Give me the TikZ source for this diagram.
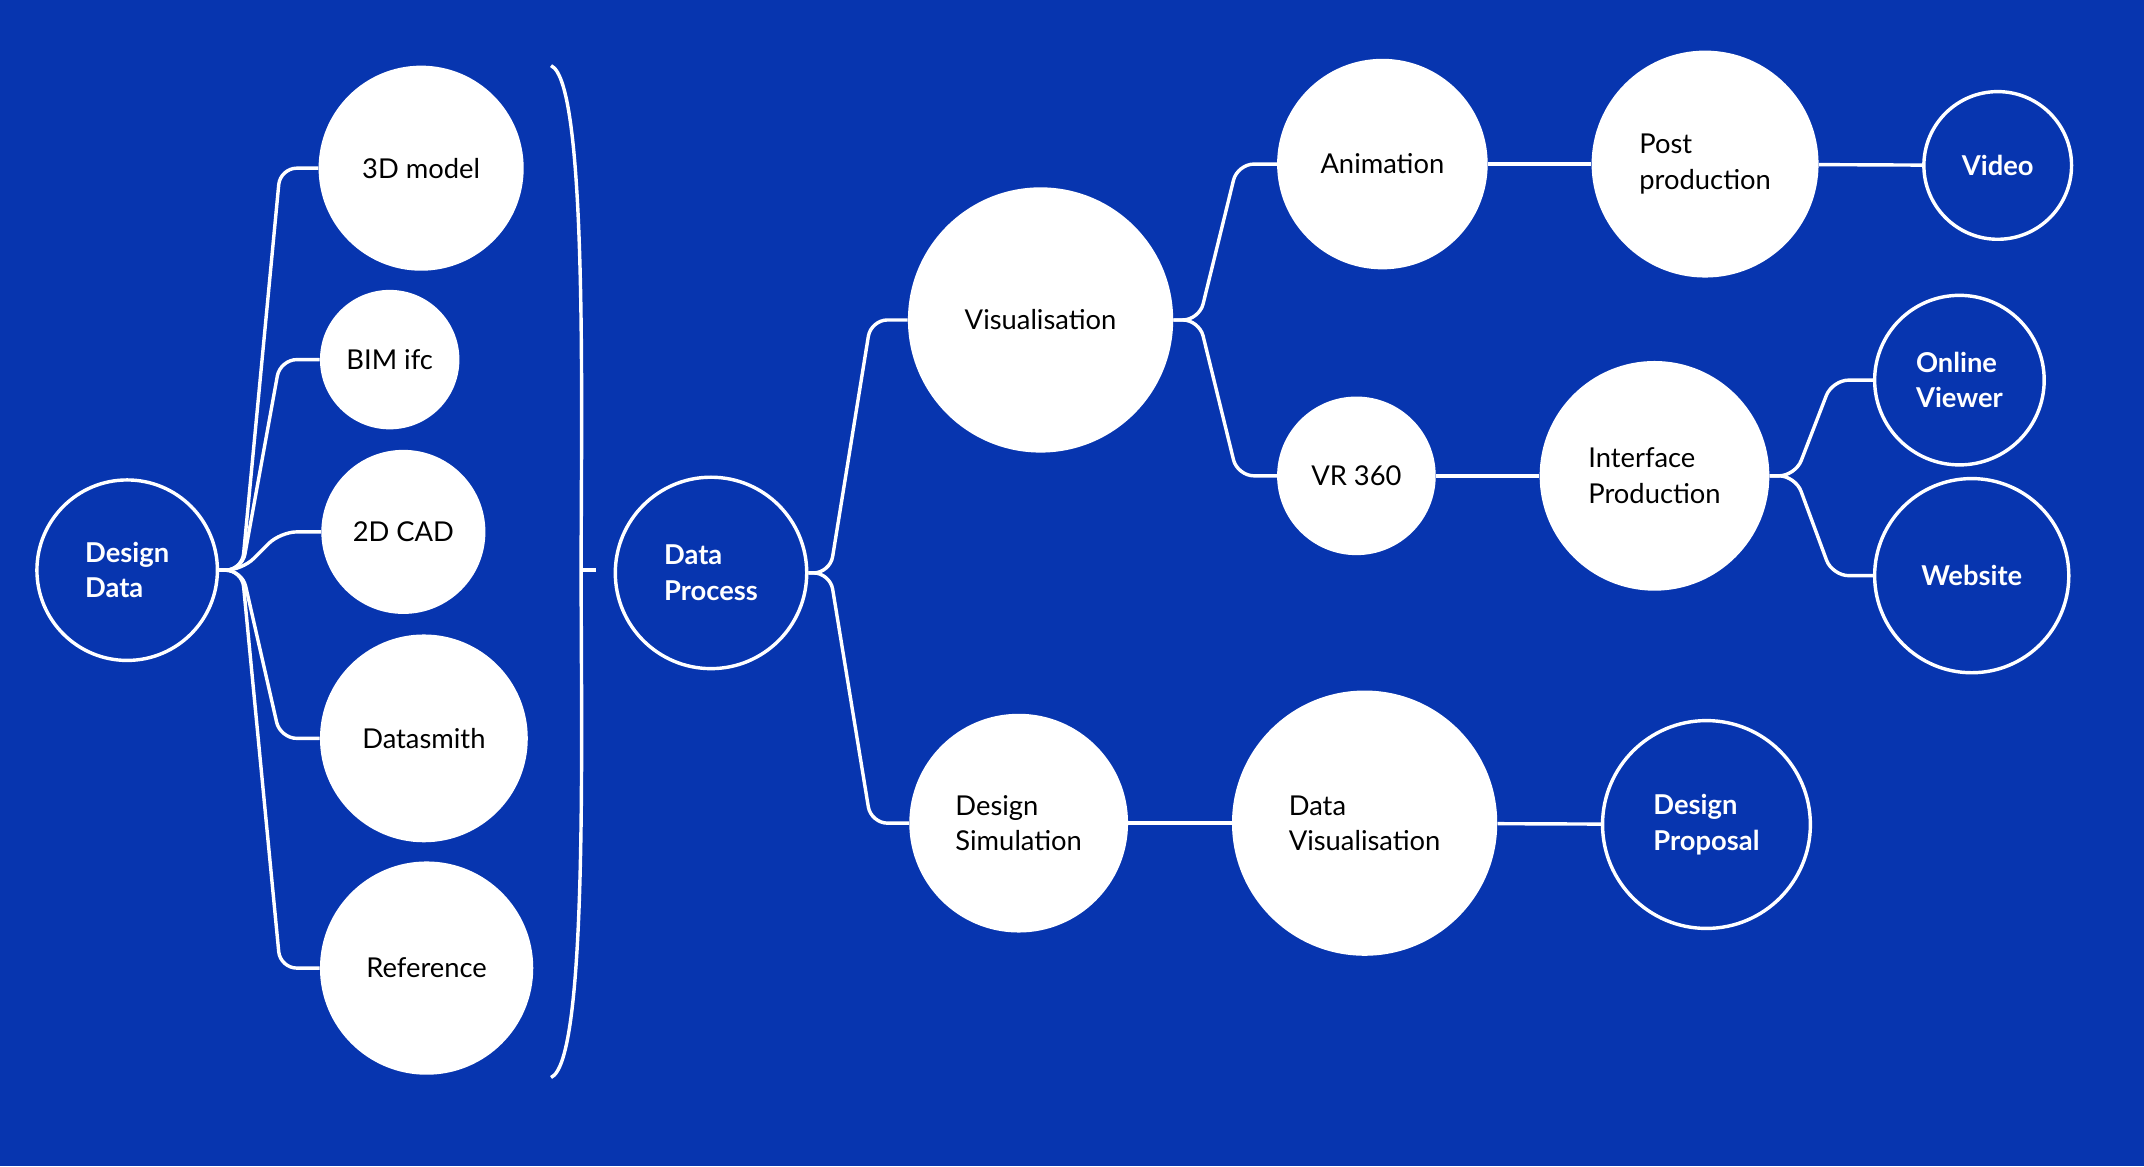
\documentclass[tikz,border=0pt]{standalone}
\usepackage{fontspec}
\setmainfont{Lato}
\definecolor{bg}{HTML}{0735AF}
\begin{document}
\begin{tikzpicture}[x=1pt,y=-1pt,
  wc/.style={circle,fill=white,draw=none,inner sep=0pt,text=black,font=\fontsize{20}{26}\selectfont,align=left},
  oc/.style={circle,draw=white,line width=2.5pt,inner sep=0pt,text=white,font=\bfseries\fontsize{20}{26}\selectfont,align=left},
  ln/.style={draw=white,line width=2.5pt,rounded corners=12pt}]
\fill[bg] (0,0) rectangle (1568,853);
\useasboundingbox (0,0) rectangle (1568,853);
\node[oc,minimum size=132] (dd) at (93,417) {Design\\Data};
\node[wc,minimum size=150] (m3) at (308,123) {3D model};
\node[wc,minimum size=102] (bim) at (285,263) {BIM ifc};
\node[wc,minimum size=120] (cad) at (295,389) {2D CAD};
\node[wc,minimum size=152] (ds) at (310,540) {Datasmith};
\node[wc,minimum size=156] (ref) at (312,708) {Reference};
\coordinate (j1) at (177,417);
\foreach \n in {m3,bim,cad,ds,ref}{
  \draw[ln] (dd.east) -- (j1) -- (205,0 |- \n.west) -- (\n.west);}
\coordinate (b1) at (403,48);
\coordinate (b2) at (403,788);
\coordinate (bm) at (425,417);
\coordinate (bt) at (436,417);
\draw[white,line width=2.5pt] (b1) .. controls (430,60) and (425,300) .. (bm) .. controls (425,540) and (430,776) .. (b2);
\draw[white,line width=2.5pt] (bm) -- (bt);
\node[oc,minimum size=140] (dp) at (520,419) {Data\\Process};
\node[wc,minimum size=194] (vis) at (761,234) {Visualisation};
\node[wc,minimum size=160] (sim) at (745,602) {Design\\Simulation};
\coordinate (j2) at (607,419);
\draw[ln] (dp.east) -- (j2) -- (637,234) -- (vis.west);
\draw[ln] (dp.east) -- (j2) -- (637,602) -- (sim.west);
\node[wc,minimum size=154] (ani) at (1011,120) {Animation};
\node[wc,minimum size=116] (vr) at (992,348) {VR 360};
\coordinate (j3) at (877,234);
\draw[ln] (vis.east) -- (j3) -- (905,120) -- (ani.west);
\draw[ln] (vis.east) -- (j3) -- (905,348) -- (vr.west);
\node[wc,minimum size=166] (post) at (1247,120) {Post\\production};
\node[wc,minimum size=168] (ip) at (1210,348) {Interface\\Production};
\node[oc,minimum size=108] (vid) at (1461,121) {Video};
\node[oc,minimum size=124] (ov) at (1433,278) {Online\\Viewer};
\node[oc,minimum size=142] (web) at (1442,421) {Website};
\draw[ln] (ani) -- (post);
\draw[ln] (post) -- (vid);
\draw[ln] (vr) -- (ip);
\coordinate (j4) at (1313,348);
\draw[ln] (ip.east) -- (j4) -- (1340,278) -- (ov.west);
\draw[ln] (ip.east) -- (j4) -- (1340,421) -- (web.west);
\node[wc,minimum size=194] (dv) at (998,602) {Data\\Visualisation};
\node[oc,minimum size=152] (prop) at (1248,603) {Design\\Proposal};
\draw[ln] (sim) -- (dv);
\draw[ln] (dv) -- (prop);
\end{tikzpicture}
\end{document}
